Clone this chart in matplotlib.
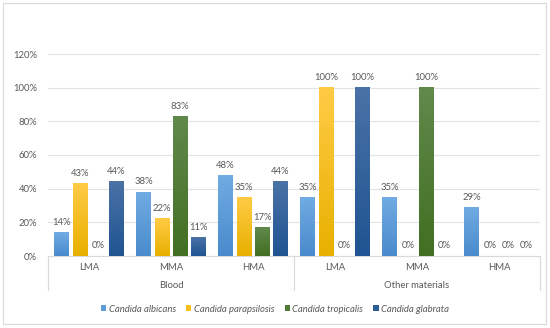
import matplotlib.pyplot as plt
import numpy as np
from matplotlib.patches import Rectangle
from matplotlib.lines import Line2D
from matplotlib.colors import LinearSegmentedColormap

plt.rcParams['font.family'] = ['Lato', 'DejaVu Sans']

sub_labels = ['LMA', 'MMA', 'HMA', 'LMA', 'MMA', 'HMA']
group_labels = ['Blood', 'Other materials']
species = ['Candida albicans', 'Candida parapsilosis', 'Candida tropicalis', 'Candida glabrata']
albicans = [14, 38, 48, 35, 35, 29]
parapsilosis = [43, 22, 35, 100, 0, 0]
tropicalis = [0, 83, 17, 0, 100, 0]
glabrata = [44, 11, 44, 100, 0, 0]
series = [albicans, parapsilosis, tropicalis, glabrata]
colors = ['#5c9cd8', '#f7c01f', '#4f7b35', '#2c5e95']
grad = [('#4a8bcd', '#70abe2'), ('#e8b000', '#ffcb45'),
        ('#426f22', '#61894c'), ('#1f5492', '#4a72a6')]

txt = '#595959'
grid = '#e3e3e3'

fig = plt.figure(figsize=(5.5, 3.28), dpi=100)
fig.patches.append(Rectangle((0.006, 0.012), 0.987, 0.978, transform=fig.transFigure,
                             fill=False, edgecolor='#d9d9d9', lw=0.8))
ax = fig.add_axes([48/550, 1-256/328, 492/550, 202/328])

x = np.arange(len(sub_labels))
pitch = 0.223
width = 0.177
g = np.linspace(0, 1, 64).reshape(-1, 1)
for i, (vals, c) in enumerate(zip(series, colors)):
    pos = x + (i - 1.5) * pitch
    bars = ax.bar(pos, vals, width, color=c, label=species[i], zorder=3)
    cmap = LinearSegmentedColormap.from_list('g%d' % i, grad[i])
    for b in bars:
        h = b.get_height()
        if h > 0:
            ax.imshow(g, cmap=cmap, aspect='auto', origin='lower', zorder=3.5,
                      extent=[b.get_x(), b.get_x() + b.get_width(), 0, h])
    for p, v in zip(pos, vals):
        ax.annotate(f'{v}%', (p, v), xytext=(0, 4), textcoords='offset points',
                    ha='center', va='bottom', fontsize=6.8, color=txt)

ax.set_xlim(-0.5, 5.5)
ax.set_ylim(0, 120)
ax.set_yticks(range(0, 121, 20))
ax.set_yticklabels([f'{t}%' for t in range(0, 121, 20)])
ax.grid(axis='y', color=grid, lw=0.8, zorder=0)
for s in ['top', 'right', 'left']:
    ax.spines[s].set_visible(False)
ax.spines['bottom'].set_color('#d9d9d9')
ax.tick_params(axis='y', length=0, labelsize=6.8, labelcolor=txt, pad=8)
ax.set_xticks(x)
ax.set_xticklabels(sub_labels)
ax.tick_params(axis='x', length=0, labelsize=6.8, labelcolor=txt, pad=5)

# group labels and separators below axis
trans = ax.get_xaxis_transform()
ax.text(1, -0.145, group_labels[0], transform=trans, ha='center', va='center', fontsize=6.8, color=txt)
ax.text(4, -0.145, group_labels[1], transform=trans, ha='center', va='center', fontsize=6.8, color=txt)
for xs in [-0.5, 2.5, 5.5]:
    ax.add_line(Line2D([xs, xs], [0, -0.17], transform=trans, color='#d9d9d9', lw=0.8, clip_on=False))

fig.legend(loc='center', bbox_to_anchor=(0.5, 1-309/328), ncol=4, frameon=False,
           prop={'size': 6.8, 'style': 'italic'}, handlelength=0.55, handleheight=0.55,
           handletextpad=0.25, columnspacing=1.1, labelcolor=txt)

fig.savefig('out.png', dpi=100)
